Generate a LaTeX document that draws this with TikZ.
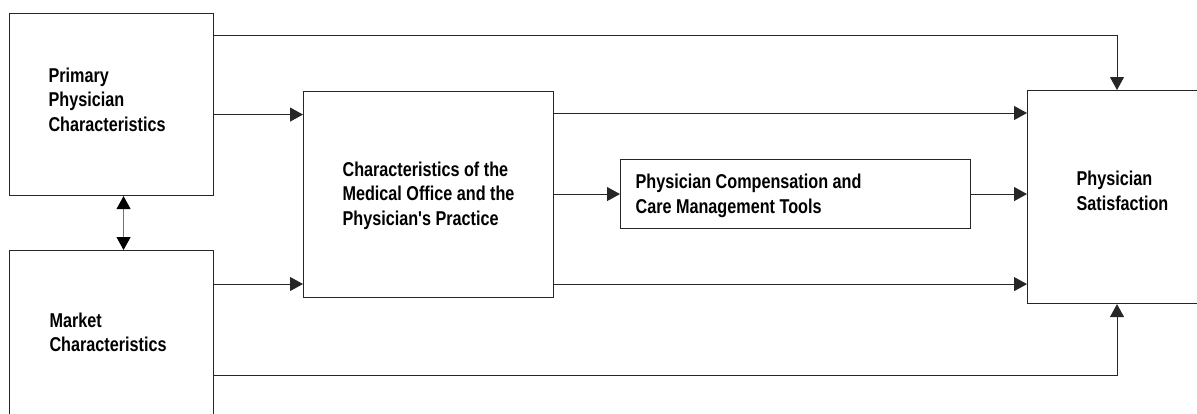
\documentclass[tikz,border=0pt]{standalone}
\usepackage{fontspec}
\usetikzlibrary{arrows.meta}
\newfontfamily\cond[FakeStretch=0.81]{Liberation Sans}
% #1 block width, #2 extra height, #3 extra depth, #4 lines
\newcommand{\boxlbl}[4]{\raisebox{0pt}[\dimexpr\height+#2\relax][\dimexpr\depth+#3\relax]{\makebox[#1][l]{\begin{tabular}{@{}l@{}}#4\end{tabular}}}}
\begin{document}
\begin{tikzpicture}[x=1pt,y=-1pt,
  box/.style={draw=black!85, line width=1.1pt, anchor=north west,
    inner ysep=0pt, font=\cond\bfseries\fontsize{20}{24.5}\selectfont},
  arr/.style={draw=black!85, line width=1pt, -{Triangle[length=13pt,width=14pt]}},
  darr/.style={draw=black!55, line width=0.9pt, {Triangle[length=13pt,width=14pt,color=black]}-{Triangle[length=13pt,width=14pt,color=black]}}]
\useasboundingbox (0,0) rectangle (1197,413);
\node[box, minimum width=204pt, minimum height=182pt, inner xsep=39pt] (A) at (9,13)
  {\boxlbl{126pt}{0pt}{5pt}{Primary\\Physician\\Characteristics}};
\node[box, minimum width=204pt, minimum height=168pt, inner xsep=40pt] (B) at (9,250)
  {\boxlbl{124pt}{0pt}{0pt}{Market\\Characteristics}};
\node[box, minimum width=250pt, minimum height=206pt, inner xsep=39pt] (C) at (303,91)
  {\boxlbl{172pt}{3pt}{0pt}{Characteristics of the\\Medical Office and the\\Physician's Practice}};
\node[box, minimum width=350pt, minimum height=69pt, inner xsep=15pt] (D) at (620,159)
  {\boxlbl{320pt}{4pt}{0pt}{Physician Compensation and\\Care Management Tools}};
\node[box, minimum width=200pt, minimum height=213pt, inner xsep=49pt] (E) at (1027,90)
  {\boxlbl{102pt}{0pt}{8pt}{Physician\\Satisfaction}};
% connectors
\draw[arr] ([yshift=-22pt]A.north east) -| ([xshift=90pt]E.north west);
\draw[arr] ([yshift=-10pt]A.east) -- ([yshift=-10pt]A.east -| C.west);
\draw[darr] ([xshift=12pt]A.south) -- ([xshift=12pt]A.south |- B.north);
\draw[arr] ([yshift=-34pt]B.north east) -- ([yshift=-34pt]B.north east -| C.west);
\draw[arr] ([yshift=-125pt]B.north east) -| ([xshift=90pt]E.south west);
\draw[arr] ([yshift=-22pt]C.north east) -- ([yshift=-22pt]C.north east -| E.west);
\draw[arr] (C.east |- D.west) -- (D.west);
\draw[arr] (D.east) -- (D.east -| E.west);
\draw[arr] ([yshift=14pt]C.south east) -- ([yshift=14pt]C.south east -| E.west);
\end{tikzpicture}
\end{document}
